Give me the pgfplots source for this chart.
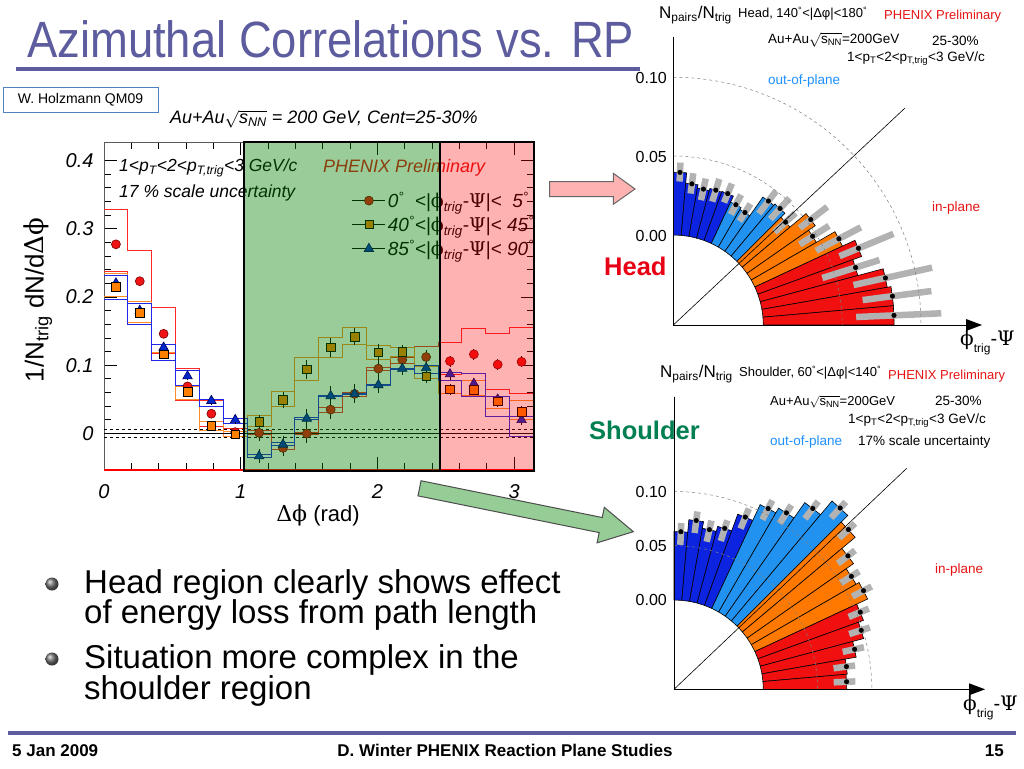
\documentclass[border=0pt]{standalone}
\usepackage{pgfplots}
\pgfplotsset{compat=1.18}
\usepackage{pgfplotstable}
\usepackage{graphicx}
\usepackage{fontspec}
\setmainfont{Liberation Sans}
\newfontfamily\symb{DejaVu Serif}

\definecolor{titleblue}{RGB}{92,92,158}
\definecolor{boxblue}{RGB}{79,129,189}
\definecolor{sRed}{RGB}{240,20,20}
\definecolor{sRedD}{RGB}{120,0,0}
\definecolor{sOrange}{RGB}{255,128,0}
\definecolor{sBlue}{RGB}{0,40,200}
\definecolor{sBlueD}{RGB}{0,0,100}
\definecolor{lnRed}{RGB}{255,40,40}
\definecolor{lnOrange}{RGB}{255,140,40}
\definecolor{lnBlue}{RGB}{30,40,230}
\definecolor{ovGreen}{RGB}{0,128,0}
\definecolor{ovRed}{RGB}{255,0,0}
\definecolor{arrPink}{RGB}{255,178,178}
\definecolor{arrGreen}{RGB}{150,204,150}
\definecolor{dBlue}{RGB}{12,36,224}
\definecolor{lBlue}{RGB}{34,146,240}
\definecolor{wOrange}{RGB}{255,120,0}
\definecolor{wRed}{RGB}{240,16,16}
\definecolor{txtBlue}{RGB}{30,144,255}
\definecolor{txtRed}{RGB}{230,20,20}
\definecolor{headRed}{RGB}{232,0,20}
\definecolor{shGreen}{RGB}{0,128,80}

\newcommand\fs[1]{\fontsize{#1}{#1}\selectfont}
\newcommand\phis{{\symb\upshape ϕ}}
\newcommand\Psis{{\symb\upshape Ψ}}
\newcommand\Deltas{{\symb\upshape Δ}}

% wedge: a1 a2 value colour r0 scale
\newcommand\wdg[6]{\addplot[fill=#4,draw=black,line width=0.6pt] table[row sep=\\,x expr={(#5+#6*\thisrow{v})*cos(\thisrow{a})},y expr={(#5+#6*\thisrow{v})*sin(\thisrow{a})}] {a v\\ #1 0\\ #1 #3\\ #2 #3\\ #2 0\\} -- cycle;}
% gray systematic bar: angle lo hi r0 scale
\newcommand\gbr[5]{\addplot[black!30,line width=6.5pt] table[row sep=\\,x expr={(#4+#5*\thisrow{v})*cos(\thisrow{a})},y expr={(#4+#5*\thisrow{v})*sin(\thisrow{a})}] {a v\\ #1 #2\\ #1 #3\\};}
\newcommand\hw[4]{\wdg{#1}{#2}{#3}{#4}{90}{1577}}
\newcommand\sw[4]{\wdg{#1}{#2}{#3}{#4}{89.3}{1085}}
\newcommand\hg[3]{\gbr{#1}{#2}{#3}{90}{1577}}
\newcommand\sg[3]{\gbr{#1}{#2}{#3}{89.3}{1085}}

\pgfplotstableread{
x y1 e1 y2 e2 y3 e3
0.0873 0.277 0.006 0.215 0.006 0.220 0.006
0.2618 0.223 0.006 0.177 0.006 0.180 0.006
0.4363 0.146 0.006 0.116 0.006 0.126 0.006
0.6109 0.069 0.006 0.061 0.006 0.084 0.006
0.7854 0.029 0.006 0.011 0.006 0.048 0.006
0.9599 0.002 0.006 -0.001 0.006 0.020 0.006
1.1345 0.001 0.012 0.017 0.010 -0.033 0.010
1.3090 -0.021 0.012 0.049 0.012 -0.016 0.012
1.4835 0.000 0.014 0.094 0.014 0.022 0.014
1.6581 0.035 0.014 0.126 0.014 0.055 0.014
1.8326 0.058 0.012 0.142 0.012 0.058 0.014
2.0071 0.095 0.012 0.119 0.012 0.071 0.012
2.1817 0.108 0.012 0.120 0.010 0.095 0.010
2.3562 0.112 0.010 0.084 0.010 0.096 0.010
2.5307 0.106 0.008 0.065 0.008 0.087 0.008
2.7053 0.116 0.008 0.064 0.008 0.073 0.008
2.8798 0.101 0.008 0.047 0.008 0.050 0.008
3.0543 0.105 0.008 0.032 0.008 0.020 0.008
}\maindata

\pgfplotstableread{
x ru rl ou ol bu bl
0.0000 0.328 0.237 0.235 0.200 0.231 0.197
0.1745 0.268 0.193 0.193 0.163 0.190 0.160
0.3491 0.184 0.117 0.118 0.107 0.130 0.107
0.5236 0.095 0.049 0.069 0.050 0.092 0.070
0.6981 0.049 0.010 0.017 0.005 0.050 0.040
0.8727 0.008 -0.004 0.003 -0.005 0.022 0.015
1.0472 0.004 -0.002 0.027 0.010 -0.030 -0.035
1.2217 -0.018 -0.024 0.062 0.040 -0.013 -0.018
1.3963 0.002 -0.002 0.111 0.077 0.024 0.020
1.5708 0.038 0.031 0.141 0.112 0.056 0.054
1.7453 0.060 0.055 0.155 0.131 0.059 0.057
1.9199 0.097 0.092 0.129 0.109 0.072 0.070
2.0944 0.112 0.103 0.126 0.113 0.096 0.094
2.2689 0.128 0.100 0.098 0.080 0.100 0.088
2.4435 0.134 0.086 0.078 0.058 0.090 0.078
2.6180 0.154 0.088 0.078 0.056 0.088 0.054
2.7925 0.147 0.065 0.055 0.037 0.055 0.025
2.9671 0.156 0.058 0.048 0.020 0.025 -0.004
3.1416 0.156 0.058 0.048 0.020 0.025 -0.004
}\sysdata

\begin{document}
\begin{tikzpicture}[x=1pt,y=1pt]
\fill[white] (0,0) rectangle (1024,-768);
\useasboundingbox (0,0) rectangle (1024,-768);

% ---------- title ----------
\node[anchor=base west,inner sep=0,text=titleblue] at (27,-58) {\fs{51}\scalebox{0.89}[1]{Azimuthal Correlations vs. RP}};
\fill[titleblue] (16,-67) rectangle (640,-71);

\draw[boxblue,line width=1pt] (3,-87) rectangle (158,-112);
\node[anchor=center,inner sep=0] at (80.5,-99.5) {\fs{14}W. Holzmann QM09};

\node[anchor=west,inner sep=0] at (170,-119) {\fs{18}\itshape Au+Au$\sqrt{\mbox{\itshape s\textsubscript{NN}}}$ = 200 GeV, Cent=25-30\%};

% ---------- main plot ----------
\begin{axis}[at={(104pt,-470pt)}, anchor=south west, scale only axis,
  width=429.5pt, height=328pt,
  xmin=0, xmax=3.1416, ymin=-0.0534, ymax=0.4268,
  xtick={0,1,2,3}, minor x tick num=4,
  ytick={0,0.1,0.2,0.3,0.4}, minor y tick num=4,
  tick align=inside, major tick length=13pt, minor tick length=7pt,
  tick style={black,line width=0.8pt},
  axis line style={black!65,line width=1pt},
  /pgf/number format/assume math mode=true,
  ticklabel style={font=\fs{20}\itshape},
  xticklabel style={yshift=-11pt},
  yticklabel style={xshift=-7pt},
  legend style={at={(rel axis cs:0.577,0.748)}, anchor=west, draw=none, fill=none,
    font=\fs{19}\itshape, row sep=3pt, inner sep=0pt, cells={anchor=west}, nodes={inner sep=2pt}},
  legend image code/.code={\draw[black,line width=0.8pt] (0pt,0pt) -- (33pt,0pt); \draw[#1] plot coordinates {(16.5pt,0pt)};},
]
\addplot[forget plot, const plot mark left, lnRed, line width=0.9pt] table[x=x,y=ru] {\sysdata};
\addplot[forget plot, const plot mark left, lnRed, line width=0.9pt] table[x=x,y=rl] {\sysdata};
\addplot[forget plot, const plot mark left, lnOrange, line width=0.9pt] table[x=x,y=ou] {\sysdata};
\addplot[forget plot, const plot mark left, lnOrange, line width=0.9pt] table[x=x,y=ol] {\sysdata};
\addplot[forget plot, const plot mark left, lnBlue, line width=0.9pt] table[x=x,y=bu] {\sysdata};
\addplot[forget plot, const plot mark left, lnBlue, line width=0.9pt] table[x=x,y=bl] {\sysdata};
\addplot[forget plot, black, line width=0.9pt] coordinates {(0,0) (3.1416,0)};
\addplot[forget plot, black, dashed, line width=0.6pt] coordinates {(0,0.006) (3.1416,0.006)};
\addplot[forget plot, black, dashed, line width=0.6pt] coordinates {(0,-0.006) (3.1416,-0.006)};
\addplot[forget plot, ovRed, line width=1.2pt] coordinates {(0,-0.0534) (3.1416,-0.0534)};

\addplot[forget plot, only marks, mark=*, mark size=4.5pt, mark options={fill=sRed,draw=sRedD,line width=0.6pt},
  error bars/.cd, y dir=both, y explicit, error bar style={black,line width=0.8pt}, error mark=none]
  table[x=x,y=y1,y error=e1] {\maindata};
\addplot[forget plot, only marks, mark=triangle*, mark size=5.5pt, mark options={fill=sBlue,draw=sBlueD,line width=0.6pt},
  error bars/.cd, y dir=both, y explicit, error bar style={black,line width=0.8pt}, error mark=none]
  table[x=x,y=y3,y error=e3] {\maindata};
\addplot[forget plot, only marks, mark=square*, mark size=4.3pt, mark options={fill=sOrange,draw=black,line width=0.6pt},
  error bars/.cd, y dir=both, y explicit, error bar style={black,line width=0.8pt}, error mark=none]
  table[x=x,y=y2,y error=e2] {\maindata};

\addlegendimage{mark=*, mark size=4.5pt, mark options={fill=sRed,draw=sRedD,line width=0.6pt}}
\addlegendentry{0\textsuperscript{°}\ \ <|\phis\textsubscript{trig}-\Psis|<\ \ 5\textsuperscript{°}}
\addlegendimage{mark=square*, mark size=4pt, mark options={fill=sOrange,draw=black,line width=0.6pt}}
\addlegendentry{40\textsuperscript{°}<|\phis\textsubscript{trig}-\Psis|< 45\textsuperscript{°}}
\addlegendimage{mark=triangle*, mark size=5.5pt, mark options={fill=sBlue,draw=sBlueD,line width=0.6pt}}
\addlegendentry{85\textsuperscript{°}<|\phis\textsubscript{trig}-\Psis|< 90\textsuperscript{°}}
\end{axis}

\node[anchor=west,inner sep=0] at (119,-168) {\fs{17.5}\itshape 1<p\textsubscript{T}<2<p\textsubscript{T,trig}<3 GeV/c};
\node[anchor=west,inner sep=0] at (119,-193) {\fs{17.5}\itshape 17 \% scale uncertainty};
\node[anchor=west,inner sep=0,text=txtRed] at (323,-168) {\fs{18}\itshape PHENIX Preliminary};

\node[rotate=90,inner sep=0] at (38,-300) {\fs{26}1/N\textsubscript{trig} dN/d\Deltas\phis};
\node[inner sep=0] at (318,-515) {\fs{22}\Deltas\phis\ (rad)};

% overlays
\filldraw[fill=ovGreen,fill opacity=0.4,draw=black,line width=1.2pt] (244,-142) rectangle (440,-471);
\filldraw[fill=ovRed,fill opacity=0.3,draw=black,line width=1.2pt] (440,-142) rectangle (534,-471);

% arrows
\filldraw[fill=arrPink,draw=black!60,line width=1pt] (549.7,-181.7) -- (613.3,-181.7) -- (613.3,-173.3) -- (635,-189) -- (613.3,-204.3) -- (613.3,-196.7) -- (549.7,-196.7) -- cycle;
\begin{scope}[shift={(419.5,-488.3)},rotate=-11.47]
\filldraw[fill=arrGreen,draw=black!70,line width=1pt] (0,7.7) -- (184.9,7.7) -- (184.9,18.1) -- (218.2,0) -- (184.9,-18.1) -- (184.9,-7.7) -- (0,-7.7) -- cycle;
\end{scope}

\node[anchor=base west,inner sep=0,text=headRed] at (604,-275) {\fs{25.5}\bfseries Head};
\node[anchor=base west,inner sep=0,text=shGreen] at (589,-439) {\fs{25.5}\bfseries Shoulder};

% ---------- head polar ----------
\begin{axis}[at={(673.3pt,-325pt)}, anchor=south west, x=1pt, y=1pt,
  xmin=0, xmax=320, ymin=0, ymax=300, hide axis, clip=false]
\hw{85}{90}{0.0398}{dBlue}
\hw{80}{85}{0.0332}{dBlue}
\hw{75}{80}{0.0312}{dBlue}
\hw{70}{75}{0.0326}{dBlue}
\hw{65}{70}{0.0331}{dBlue}
\hw{60}{65}{0.0289}{lBlue}
\hw{55}{60}{0.0275}{lBlue}
\hw{50}{55}{0.0420}{lBlue}
\hw{45}{50}{0.0431}{lBlue}
\hw{40}{45}{0.0395}{wOrange}
\hw{35}{40}{0.0528}{wOrange}
\hw{30}{35}{0.0477}{wOrange}
\hw{25}{30}{0.0613}{wOrange}
\hw{20}{25}{0.0700}{wRed}
\hw{15}{20}{0.0641}{wRed}
\hw{10}{15}{0.0807}{wRed}
\hw{5}{10}{0.0831}{wRed}
\hw{0}{5}{0.0830}{wRed}
\hg{87.5}{0.034}{0.046}
\hg{82.5}{0.027}{0.040}
\hg{77.5}{0.024}{0.038}
\hg{72.5}{0.025}{0.040}
\hg{67.5}{0.027}{0.040}
\hg{62.5}{0.022}{0.036}
\hg{57.5}{0.021}{0.034}
\hg{52.5}{0.032}{0.050}
\hg{47.5}{0.034}{0.052}
\hg{42.5}{0.030}{0.048}
\hg{37.5}{0.044}{0.066}
\hg{32.5}{0.038}{0.060}
\hg{27.5}{0.045}{0.077}
\hg{22.5}{0.057}{0.094}
\hg{17.5}{0.042}{0.080}
\hg{12.5}{0.060}{0.111}
\hg{7.5}{0.064}{0.108}
\hg{2.5}{0.059}{0.113}
\addplot[only marks, mark=*, mark size=2.3pt, black] table[row sep=\\,
  x expr={(90+1577*\thisrow{v})*cos(\thisrow{a})}, y expr={(90+1577*\thisrow{v})*sin(\thisrow{a})}]
  {a v\\ 87.5 0.0398\\ 82.5 0.0332\\ 77.5 0.0312\\ 72.5 0.0326\\ 67.5 0.0331\\ 62.5 0.0289\\ 57.5 0.0275\\ 52.5 0.0420\\ 47.5 0.0431\\ 42.5 0.0395\\ 37.5 0.0528\\ 32.5 0.0477\\ 27.5 0.0613\\ 22.5 0.0700\\ 17.5 0.0641\\ 12.5 0.0807\\ 7.5 0.0831\\ 2.5 0.0830\\};
\end{axis}
\draw[black!50,dashed,line width=0.5pt] (673.3,-156) arc (90:0:169);
\draw[black!50,dashed,line width=0.5pt] (673.3,-77.3) arc (90:0:247.7);
\draw[black,line width=0.6pt] (673.3,-325) -- (905,-108);
\draw[black,line width=1pt] (673.3,-36.7) -- (673.3,-325) -- (968,-325);
\fill[black] (982,-325) -- (966,-319) -- (966,-331) -- cycle;

\node[anchor=east,inner sep=0] at (667,-78) {\fs{16}0.10};
\node[anchor=east,inner sep=0] at (667,-157) {\fs{16}0.05};
\node[anchor=east,inner sep=0] at (667,-236) {\fs{16}0.00};
\node[anchor=west,inner sep=0] at (659,-15) {\fs{17}N\textsubscript{pairs}/N\textsubscript{trig}};
\node[anchor=west,inner sep=0] at (738,-14) {\fs{13}Head, 140\textsuperscript{°}<|Δφ|<180\textsuperscript{°}};
\node[anchor=west,inner sep=0,text=txtRed] at (884,-16) {\fs{13}PHENIX Preliminary};
\node[anchor=west,inner sep=0] at (768,-40) {\fs{13.5}Au+Au$\sqrt{\mbox{s\textsubscript{NN}}}$=200GeV};
\node[anchor=west,inner sep=0] at (932,-41) {\fs{13.5}25-30\%};
\node[anchor=west,inner sep=0] at (847,-59) {\fs{13.5}1<p\textsubscript{T}<2<p\textsubscript{T,trig}<3 GeV/c};
\node[anchor=west,inner sep=0,text=txtBlue] at (768,-81) {\fs{13.5}out-of-plane};
\node[anchor=west,inner sep=0,text=txtRed] at (932,-208) {\fs{13.5}in-plane};
\node[anchor=west,inner sep=0] at (960,-343) {\fs{20}\phis\raisebox{-7pt}{\fs{12}trig}-\Psis};

% ---------- shoulder polar ----------
\begin{axis}[at={(674pt,-689.3pt)}, anchor=south west, x=1pt, y=1pt,
  xmin=0, xmax=320, ymin=0, ymax=300, hide axis, clip=false]
\sw{85}{90}{0.0631}{dBlue}
\sw{80}{85}{0.0746}{dBlue}
\sw{75}{80}{0.0684}{dBlue}
\sw{70}{75}{0.0732}{dBlue}
\sw{65}{70}{0.0895}{dBlue}
\sw{60}{65}{0.1055}{lBlue}
\sw{55}{60}{0.1105}{lBlue}
\sw{50}{55}{0.1278}{lBlue}
\sw{45}{50}{0.1443}{lBlue}
\sw{40}{45}{0.1357}{wOrange}
\sw{35}{40}{0.1197}{wOrange}
\sw{30}{35}{0.1115}{wOrange}
\sw{25}{30}{0.1146}{wOrange}
\sw{20}{25}{0.1035}{wRed}
\sw{15}{20}{0.0986}{wRed}
\sw{10}{15}{0.0882}{wRed}
\sw{5}{10}{0.0780}{wRed}
\sw{0}{5}{0.0769}{wRed}
\sg{87.5}{0.051}{0.071}
\sg{82.5}{0.063}{0.083}
\sg{77.5}{0.057}{0.077}
\sg{72.5}{0.061}{0.081}
\sg{67.5}{0.078}{0.098}
\sg{62.5}{0.094}{0.114}
\sg{57.5}{0.099}{0.119}
\sg{52.5}{0.116}{0.136}
\sg{47.5}{0.132}{0.152}
\sg{42.5}{0.124}{0.144}
\sg{37.5}{0.108}{0.128}
\sg{32.5}{0.100}{0.120}
\sg{27.5}{0.103}{0.123}
\sg{22.5}{0.092}{0.112}
\sg{17.5}{0.087}{0.107}
\sg{12.5}{0.077}{0.097}
\sg{7.5}{0.066}{0.086}
\sg{2.5}{0.065}{0.085}
\addplot[only marks, mark=*, mark size=2.3pt, black] table[row sep=\\,
  x expr={(89.3+1085*\thisrow{v})*cos(\thisrow{a})}, y expr={(89.3+1085*\thisrow{v})*sin(\thisrow{a})}]
  {a v\\ 87.5 0.0631\\ 82.5 0.0746\\ 77.5 0.0684\\ 72.5 0.0732\\ 67.5 0.0895\\ 62.5 0.1055\\ 57.5 0.1105\\ 52.5 0.1278\\ 47.5 0.1443\\ 42.5 0.1357\\ 37.5 0.1197\\ 32.5 0.1115\\ 27.5 0.1146\\ 22.5 0.1035\\ 17.5 0.0986\\ 12.5 0.0882\\ 7.5 0.0780\\ 2.5 0.0769\\};
\end{axis}
\draw[black!50,dashed,line width=0.5pt] (674,-545.7) arc (90:0:143.6);
\draw[black!50,dashed,line width=0.5pt] (674,-491.5) arc (90:0:197.8);
\draw[black,line width=0.6pt] (674,-689.3) -- (906.7,-468.3);
\draw[black,line width=1pt] (674,-396.7) -- (674,-689.3) -- (971,-689.3);
\fill[black] (985,-689.3) -- (969,-683.3) -- (969,-695.3) -- cycle;

\node[anchor=east,inner sep=0] at (667,-491.7) {\fs{16}0.10};
\node[anchor=east,inner sep=0] at (667,-545.7) {\fs{16}0.05};
\node[anchor=east,inner sep=0] at (667,-600) {\fs{16}0.00};
\node[anchor=west,inner sep=0] at (660,-374) {\fs{17}N\textsubscript{pairs}/N\textsubscript{trig}};
\node[anchor=west,inner sep=0] at (739,-373) {\fs{13}Shoulder, 60\textsuperscript{°}<|Δφ|<140\textsuperscript{°}};
\node[anchor=west,inner sep=0,text=txtRed] at (888,-376) {\fs{13}PHENIX Preliminary};
\node[anchor=west,inner sep=0] at (770,-402) {\fs{13}Au+Au$\sqrt{\mbox{s\textsubscript{NN}}}$=200GeV};
\node[anchor=west,inner sep=0] at (935,-401) {\fs{13.5}25-30\%};
\node[anchor=west,inner sep=0] at (848,-421) {\fs{13.5}1<p\textsubscript{T}<2<p\textsubscript{T,trig}<3 GeV/c};
\node[anchor=west,inner sep=0,text=txtBlue] at (770,-442) {\fs{13.5}out-of-plane};
\node[anchor=west,inner sep=0] at (858,-442) {\fs{13.5}17\% scale uncertainty};
\node[anchor=west,inner sep=0,text=txtRed] at (935,-570) {\fs{13.5}in-plane};
\node[anchor=west,inner sep=0] at (963,-708) {\fs{20}\phis\raisebox{-7pt}{\fs{12}trig}-\Psis};

% ---------- bullets ----------
\shade[ball color=black!55] (52,-584) circle (6.5);
\shade[ball color=black!55] (52,-659) circle (6.5);
\node[anchor=base west,inner sep=0] at (84,-593) {\fs{33}Head region clearly shows effect};
\node[anchor=base west,inner sep=0] at (84,-623) {\fs{33}of energy loss from path length};
\node[anchor=base west,inner sep=0] at (84,-668) {\fs{33}Situation more complex in the};
\node[anchor=base west,inner sep=0] at (84,-699) {\fs{33}shoulder region};

% ---------- footer ----------
\fill[titleblue] (8,-731) rectangle (1016,-735);
\node[anchor=base west,inner sep=0] at (12,-756) {\fs{17}\bfseries 5 Jan 2009};
\node[anchor=base,inner sep=0] at (505,-756) {\fs{17}\bfseries D. Winter PHENIX Reaction Plane Studies};
\node[anchor=base east,inner sep=0] at (1004,-756) {\fs{17}\bfseries 15};
\end{tikzpicture}
\end{document}
